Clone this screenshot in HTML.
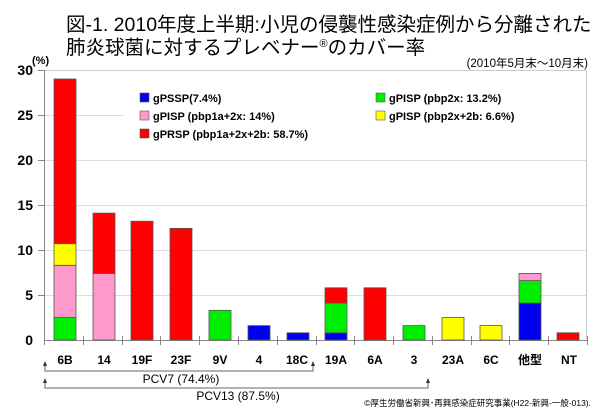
<!DOCTYPE html>
<html><head><meta charset="utf-8"><style>
body{margin:0;background:#fff}
svg{display:block}
text{font-family:"Liberation Sans","Noto Sans CJK JP",sans-serif}
.b{font-weight:bold}
</style></head><body>
<svg width="600" height="415" viewBox="0 0 600 415" xmlns="http://www.w3.org/2000/svg">
<text x="66" y="31" font-size="19.5">図-1. 2010年度上半期:小児の侵襲性感染症例から分離された</text>
<text x="66" y="54" font-size="19.5">肺炎球菌に対するプレベナー<tspan font-size="11" dy="-7">®</tspan><tspan dy="7">のカバー率</tspan></text>
<text x="32" y="64" font-size="11" class="b">(%)</text>
<text x="588" y="67" font-size="11.5" text-anchor="end">(2010年5月末～10月末)</text>
<g stroke="#ddd" stroke-width="1">
<line x1="44" x2="587" y1="115.5" y2="115.5"/>
<line x1="44" x2="587" y1="160.5" y2="160.5"/>
<line x1="44" x2="587" y1="205.5" y2="205.5"/>
<line x1="44" x2="587" y1="250.5" y2="250.5"/>
<line x1="44" x2="587" y1="295.5" y2="295.5"/>
</g>
<rect x="123" y="88" width="462" height="55" fill="#fff"/>
<polyline points="44,70.5 586.5,70.5 586.5,340" fill="none" stroke="#ccc"/>
<line x1="44.5" x2="44.5" y1="70" y2="340" stroke="#888"/>
<line x1="44" x2="588" y1="340.5" y2="340.5" stroke="#888"/>
<g stroke="#888">
<line x1="38" x2="44" y1="70.5" y2="70.5"/><line x1="38" x2="44" y1="115.5" y2="115.5"/><line x1="38" x2="44" y1="160.5" y2="160.5"/><line x1="38" x2="44" y1="205.5" y2="205.5"/><line x1="38" x2="44" y1="250.5" y2="250.5"/><line x1="38" x2="44" y1="295.5" y2="295.5"/>
</g>
<g font-size="14" class="b" text-anchor="end">
<text x="33" y="75">30</text><text x="33" y="120">25</text><text x="33" y="165">20</text><text x="33" y="210">15</text><text x="33" y="255">10</text><text x="33" y="300">5</text><text x="33" y="345">0</text>
</g>
<g stroke="#888">
<line x1="44.5" x2="44.5" y1="336" y2="345"/><line x1="83.5" x2="83.5" y1="336" y2="345"/><line x1="122.5" x2="122.5" y1="336" y2="345"/><line x1="160.5" x2="160.5" y1="336" y2="345"/><line x1="199.5" x2="199.5" y1="336" y2="345"/><line x1="238.5" x2="238.5" y1="336" y2="345"/><line x1="277.5" x2="277.5" y1="336" y2="345"/><line x1="316.5" x2="316.5" y1="336" y2="345"/><line x1="354.5" x2="354.5" y1="336" y2="345"/><line x1="393.5" x2="393.5" y1="336" y2="345"/><line x1="432.5" x2="432.5" y1="336" y2="345"/><line x1="471.5" x2="471.5" y1="336" y2="345"/><line x1="509.5" x2="509.5" y1="336" y2="345"/><line x1="548.5" x2="548.5" y1="336" y2="345"/><line x1="587.5" x2="587.5" y1="336" y2="345"/>
</g>
<g stroke="#555" stroke-width="0.8">
<rect x="54" y="317.5" width="22" height="22.5" fill="#00ee00"/>
<rect x="54" y="265.3" width="22" height="52.2" fill="#ff99cc"/>
<rect x="54" y="243.7" width="22" height="21.6" fill="#ffff00"/>
<rect x="54" y="79" width="22" height="164.7" fill="#ff0000"/>
<rect x="93" y="273.4" width="22" height="66.6" fill="#ff99cc"/>
<rect x="93" y="213.1" width="22" height="60.3" fill="#ff0000"/>
<rect x="131" y="221.2" width="22" height="118.8" fill="#ff0000"/>
<rect x="170" y="228.4" width="22" height="111.6" fill="#ff0000"/>
<rect x="209" y="310.3" width="22" height="29.7" fill="#00ee00"/>
<rect x="248" y="325.6" width="22" height="14.4" fill="#0000ee"/>
<rect x="287" y="332.8" width="22" height="7.2" fill="#0000ee"/>
<rect x="325" y="332.8" width="22" height="7.2" fill="#0000ee"/>
<rect x="325" y="303.1" width="22" height="29.7" fill="#00ee00"/>
<rect x="325" y="287.8" width="22" height="15.3" fill="#ff0000"/>
<rect x="364" y="287.8" width="22" height="52.2" fill="#ff0000"/>
<rect x="403" y="325.6" width="22" height="14.4" fill="#00ee00"/>
<rect x="442" y="317.5" width="22" height="22.5" fill="#ffff00"/>
<rect x="480" y="325.6" width="22" height="14.4" fill="#ffff00"/>
<rect x="519" y="303.1" width="22" height="36.9" fill="#0000ee"/>
<rect x="519" y="280.6" width="22" height="22.5" fill="#00ee00"/>
<rect x="519" y="273.4" width="22" height="7.2" fill="#ff99cc"/>
<rect x="557" y="332.8" width="22" height="7.2" fill="#ff0000"/>
</g>
<g font-size="11" class="b">
<rect x="140" y="93" width="9" height="9" fill="#0000ee" stroke="#555" stroke-width="0.6"/><text x="153" y="102">gPSSP(7.4%)</text>
<rect x="140" y="111" width="9" height="9" fill="#ff99cc" stroke="#555" stroke-width="0.6"/><text x="153" y="120">gPISP (pbp1a+2x: 14%)</text>
<rect x="140" y="129" width="9" height="9" fill="#ff0000" stroke="#555" stroke-width="0.6"/><text x="153" y="138">gPRSP (pbp1a+2x+2b: 58.7%)</text>
<rect x="376" y="93" width="9" height="9" fill="#00ee00" stroke="#555" stroke-width="0.6"/><text x="389" y="102">gPISP (pbp2x: 13.2%)</text>
<rect x="376" y="111" width="9" height="9" fill="#ffff00" stroke="#555" stroke-width="0.6"/><text x="389" y="120">gPISP (pbp2x+2b: 6.6%)</text>
</g>
<g font-size="12" class="b" text-anchor="middle">
<text x="65" y="364">6B</text><text x="104" y="364">14</text><text x="142" y="364">19F</text><text x="181" y="364">23F</text><text x="220" y="364">9V</text><text x="259" y="364">4</text><text x="297" y="364">18C</text><text x="336" y="364">19A</text><text x="375" y="364">6A</text><text x="414" y="364">3</text><text x="453" y="364">23A</text><text x="491" y="364">6C</text><text x="530" y="364">他型</text><text x="569" y="364">NT</text>
</g>
<g stroke="#666" fill="none">
<polyline points="45,365 45,371 313,371 313,365"/>
<polyline points="45,382 45,388 428,388 428,382"/>
</g>
<g fill="#333">
<polygon points="45,361 43,366 47,366"/><polygon points="313,361 311,366 315,366"/>
<polygon points="45,378 43,383 47,383"/><polygon points="428,378 426,383 430,383"/>
</g>
<text x="181" y="383" font-size="12" text-anchor="middle">PCV7 (74.4%)</text>
<text x="238" y="400" font-size="12" text-anchor="middle">PCV13 (87.5%)</text>
<text x="591" y="406" font-size="8.5" text-anchor="end">©厚生労働省新興･再興感染症研究事業(H22-新興-一般-013).</text>
</svg>
</body></html>
